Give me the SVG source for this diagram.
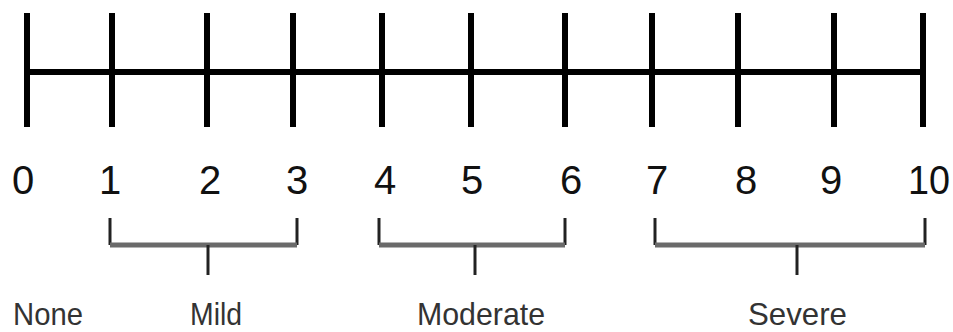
<svg xmlns="http://www.w3.org/2000/svg" width="953" height="332" viewBox="0 0 953 332">
<style>
.tick{stroke:#000;stroke-width:6;}
.axis{stroke:#000;stroke-width:6;}
.num{font-family:"Liberation Sans",Arial,sans-serif;font-size:40px;fill:#111;text-anchor:middle;}
.lbl{font-family:"Liberation Sans",Arial,sans-serif;font-size:32px;fill:#333;}
.bv{stroke:#222;stroke-width:3;fill:none;}
.bh{stroke:#6a6a6a;stroke-width:5;fill:none;}
.stem{stroke:#222;stroke-width:3;}
</style>
<rect width="953" height="332" fill="#fff"/>
<g id="scale">
<line class="axis" x1="27" y1="72" x2="923" y2="72"/>
<line class="tick" x1="27" y1="13" x2="27" y2="127"/>
<line class="tick" x1="112" y1="13" x2="112" y2="127"/>
<line class="tick" x1="207" y1="13" x2="207" y2="127"/>
<line class="tick" x1="293" y1="13" x2="293" y2="127"/>
<line class="tick" x1="382" y1="13" x2="382" y2="127"/>
<line class="tick" x1="471" y1="13" x2="471" y2="127"/>
<line class="tick" x1="565" y1="13" x2="565" y2="127"/>
<line class="tick" x1="652" y1="13" x2="652" y2="127"/>
<line class="tick" x1="738" y1="13" x2="738" y2="127"/>
<line class="tick" x1="834" y1="13" x2="834" y2="127"/>
<line class="tick" x1="923" y1="13" x2="923" y2="127"/>
</g>
<g id="numbers">
<text class="num" x="23" y="194">0</text>
<text class="num" x="110" y="194">1</text>
<text class="num" x="210" y="194">2</text>
<text class="num" x="297" y="194">3</text>
<text class="num" x="385" y="194">4</text>
<text class="num" x="472" y="194">5</text>
<text class="num" x="571" y="194">6</text>
<text class="num" x="657" y="194">7</text>
<text class="num" x="746" y="194">8</text>
<text class="num" x="831" y="194">9</text>
<text class="num" x="929" y="194" textLength="42" lengthAdjust="spacingAndGlyphs">10</text>
</g>
<g id="connectors">
<g id="bracket-mild">
<path class="bv" d="M110,218 V245"/>
<path class="bv" d="M297,218 V245"/>
<path class="bh" d="M110,245 H297"/>
<line class="stem" x1="208" y1="245" x2="208" y2="275"/>
</g>
<g id="bracket-moderate">
<path class="bv" d="M379,218 V245"/>
<path class="bv" d="M565,218 V245"/>
<path class="bh" d="M379,245 H565"/>
<line class="stem" x1="475" y1="245" x2="475" y2="275"/>
</g>
<g id="bracket-severe">
<path class="bv" d="M655,218 V245"/>
<path class="bv" d="M925,218 V245"/>
<path class="bh" d="M655,245 H925"/>
<line class="stem" x1="797" y1="245" x2="797" y2="275"/>
</g>
</g>
<g id="label-none"><text class="lbl" x="13" y="325" textLength="70" lengthAdjust="spacingAndGlyphs">None</text></g>
<g id="label-mild"><text class="lbl" x="190" y="325" textLength="52" lengthAdjust="spacingAndGlyphs">Mild</text></g>
<g id="label-moderate"><text class="lbl" x="417" y="325" textLength="128" lengthAdjust="spacingAndGlyphs">Moderate</text></g>
<g id="label-severe"><text class="lbl" x="748" y="325" textLength="99" lengthAdjust="spacingAndGlyphs">Severe</text></g>
</svg>
